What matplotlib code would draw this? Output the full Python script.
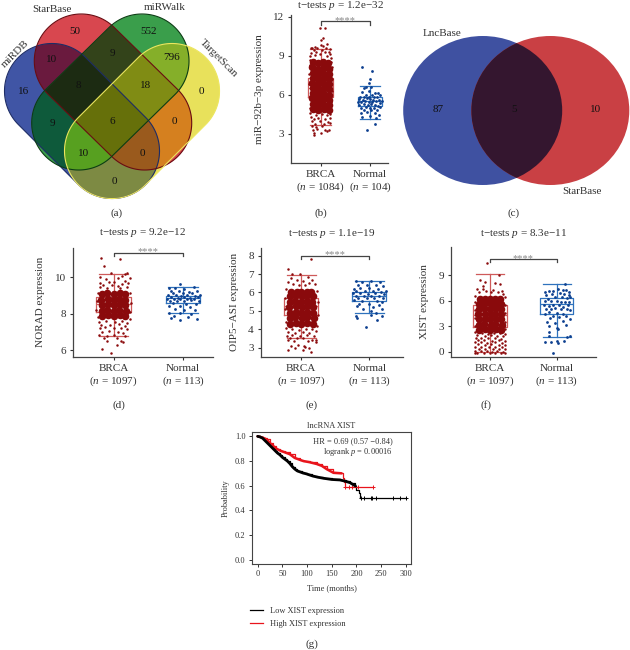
"""Multi-panel figure: Venn diagrams, expression box plots and a survival curve."""

import matplotlib

matplotlib.use("Agg")
import matplotlib.pyplot as plt  # noqa: E402
import numpy as np  # noqa: E402
from matplotlib.patches import Ellipse  # noqa: E402

plt.rcParams["font.family"] = ["Liberation Serif", "DejaVu Sans"]
plt.rcParams["mathtext.fontset"] = "custom"
plt.rcParams["mathtext.rm"] = "Liberation Serif"
plt.rcParams["mathtext.it"] = "Liberation Serif:italic"

TEXT = "#333333"
RED_DOT, RED_BOX = "#8a0a0c", "#cf5a5a"
BLUE_DOT, BLUE_BOX = "#0c3f8f", "#2f72bd"

# Venn counts (panel a, c)
venn_a_counts = ["16", "50", "552", "0", "10", "9", "796", "9", "8", "18", "0", "6", "10", "0", "0"]
venn_c_counts = ["87", "5", "10"]

# box statistics: whislo, q1, med, q3, whishi
b_stats = [(3.65, 5.8, 6.5, 7.3, 9.5), (4.15, 5.1, 5.5, 5.8, 6.65)]
d_stats = [(6.8, 8.07, 8.53, 8.93, 10.17), (8.02, 8.56, 8.84, 8.96, 9.44)]
e_stats = [(3.51, 4.78, 5.24, 5.69, 6.96), (4.87, 5.53, 5.82, 6.01, 6.6)]
f_stats = [(0.0, 2.87, 4.3, 5.47, 9.13), (1.7, 4.41, 5.6, 6.3, 7.95)]

# estimated points (jitter offset, expression); the dense centre of each BRCA cloud
# is a thinned set of fat dots, the edges are single points read off the picture
b_brca_core = [
    (-.16, 4.9), (-.05, 4.8), (.06, 4.9), (.16, 4.8), (-.15, 5.3), (-.06, 5.2), (.05, 5.3), (.17, 5.2),
    (-.17, 5.7), (-.05, 5.6), (.06, 5.7), (.16, 5.6), (-.16, 6.1), (-.06, 6.0), (.05, 6.1), (.17, 6.0),
    (-.16, 6.5), (-.05, 6.4), (.06, 6.5), (.16, 6.4), (-.17, 6.9), (-.06, 6.8), (.05, 6.9), (.16, 6.8),
    (-.15, 7.3), (-.05, 7.2), (.06, 7.3), (.17, 7.2), (-.16, 7.7), (-.06, 7.6), (.05, 7.7), (.16, 7.6),
    (-.17, 8.1), (-.05, 8.0), (.06, 8.1), (.16, 8.0), (-.16, 8.5), (-.06, 8.4), (.05, 8.5), (.15, 8.4),
]
b_brca_pts = [
    (-.01, 11.15), (.09, 11.15), (.05, 10.33), (.0, 10.2), (.13, 9.9), (.0, 9.8), (-.11, 9.7), (.05, 9.75),
    (-.18, 9.55), (.16, 9.3), (-.2, 9.6), (-.14, 9.45), (-.07, 9.6), (.1, 9.6), (.19, 9.5), (.03, 9.4),
    (-.19, 9.2), (-.09, 9.25), (.08, 9.3), (.2, 9.15), (-.21, 8.95), (-.12, 9.05), (-.02, 9.1), (.13, 9.0),
    (.21, 8.85), (-.22, 8.7), (.22, 8.5), (-.22, 8.3), (.23, 8.1), (-.23, 7.6), (.23, 7.2), (-.23, 6.8),
    (.23, 6.3), (-.22, 5.9), (.22, 5.4), (-.22, 5.0), (.22, 4.8), (-.21, 4.6), (-.1, 4.45), (.02, 4.5),
    (.12, 4.4), (.2, 4.5), (-.2, 4.25), (-.13, 4.1), (-.05, 4.2), (.08, 4.15), (.18, 4.2), (-.17, 3.95),
    (-.02, 3.95), (.15, 3.9), (.2, 3.8), (-.11, 3.75), (.06, 3.75), (-.18, 3.55), (-.09, 3.5), (.02, 3.6),
    (.12, 3.2), (.16, 3.3), (-.15, 3.3), (-.07, 3.35), (.0, 3.03), (-.13, 2.9), (-.14, 3.05), (.09, 3.25),
]
b_normal_pts = [
    (-.17, 8.1), (.05, 7.8), (.0, 7.2), (-.03, 6.9), (-.08, 6.55), (-.12, 6.5), (-.03, 6.3), (.02, 6.6),
    (-.16, 6.2), (.1, 6.1), (.17, 6.15), (-.08, 6.0), (.04, 6.0), (.2, 5.95), (-.2, 5.85), (-.12, 5.8),
    (-.03, 5.85), (.08, 5.85), (.14, 5.8), (-.22, 5.65), (-.15, 5.6), (-.07, 5.7), (.0, 5.65), (.06, 5.6),
    (.18, 5.6), (.24, 5.5), (-.24, 5.4), (-.18, 5.4), (-.1, 5.5), (-.02, 5.45), (.05, 5.4), (.12, 5.5),
    (.2, 5.35), (-.22, 5.2), (-.13, 5.25), (-.05, 5.2), (.03, 5.25), (.1, 5.2), (.16, 5.15), (-.18, 5.0),
    (-.08, 5.05), (.0, 5.0), (.08, 5.0), (.21, 5.05), (-.12, 4.85), (.03, 4.8), (.14, 4.85), (-.19, 4.6),
    (-.06, 4.65), (.1, 4.6), (.18, 4.45), (-.16, 4.3), (.0, 4.35), (.12, 4.2), (.11, 3.75), (-.07, 3.25),
]

d_brca_core = [
    (-.17, 7.85), (-.08, 7.9), (.0, 7.85), (.09, 7.9), (.17, 7.85), (-.16, 8.15), (-.09, 8.2), (.01, 8.15),
    (.08, 8.2), (.18, 8.15), (-.17, 8.45), (-.08, 8.5), (.0, 8.45), (.09, 8.5), (.17, 8.45), (-.18, 8.75),
    (-.08, 8.8), (.01, 8.75), (.08, 8.8), (.17, 8.75), (-.16, 9.05), (-.09, 9.1), (.0, 9.05), (.09, 9.1),
    (.16, 9.05),
]
d_brca_pts = [
    (-.18, 11.05), (.09, 10.98), (-.14, 10.6), (.2, 10.2), (.16, 10.15), (-.03, 10.2), (.12, 10.05), (-.2, 10.0),
    (.06, 9.95), (.23, 9.95), (-.11, 9.9), (.17, 9.8), (.01, 9.75), (-.19, 9.7), (-.07, 9.75), (.21, 9.65),
    (.12, 9.6), (-.15, 9.55), (-.02, 9.55), (.06, 9.5), (-.2, 9.45), (.19, 9.45), (-.1, 9.4), (.1, 9.4),
    (-.23, 9.1), (.24, 9.1), (-.24, 8.7), (.25, 8.6), (-.25, 8.2), (.24, 8.1), (-.23, 7.8), (.23, 7.7),
    (-.21, 7.55), (-.11, 7.6), (.02, 7.55), (.12, 7.6), (.2, 7.5), (-.18, 7.4), (-.05, 7.4), (.08, 7.45),
    (.16, 7.35), (-.2, 7.2), (-.12, 7.25), (.0, 7.2), (.11, 7.2), (.19, 7.15), (-.17, 7.0), (-.07, 7.05),
    (.06, 7.0), (.14, 6.95), (-.21, 6.85), (-.1, 6.8), (.0, 6.85), (.17, 6.8), (-.14, 6.65), (.05, 6.65),
    (.11, 6.5), (.14, 6.45), (-.09, 6.5), (.05, 6.3), (-.17, 6.05), (-.04, 5.85),
]
d_normal_pts = [
    (-.05, 9.62), (.16, 9.43), (-.2, 9.4), (-.11, 9.38), (.02, 9.35), (-.17, 9.25), (-.06, 9.25), (.09, 9.2),
    (.2, 9.22), (-.14, 9.1), (.0, 9.12), (.13, 9.12), (.24, 9.0), (-.22, 9.0), (-.1, 9.0), (-.03, 8.98),
    (.05, 9.02), (.17, 8.98), (-.17, 8.9), (-.07, 8.88), (.02, 8.9), (.1, 8.88), (.21, 8.9), (-.23, 8.8),
    (-.13, 8.8), (-.04, 8.78), (.06, 8.82), (.15, 8.8), (-.19, 8.7), (-.09, 8.7), (.01, 8.7), (.11, 8.72),
    (.23, 8.68), (-.15, 8.58), (.04, 8.55), (.19, 8.55), (-.2, 8.4), (-.05, 8.42), (.1, 8.35), (-.12, 8.25),
    (.02, 8.2), (.17, 8.22), (-.2, 8.05), (-.05, 8.05), (.12, 8.0), (-.13, 7.85), (.07, 7.82), (.2, 7.72),
    (-.17, 7.75), (-.04, 7.68),
]

e_brca_core = [
    (-.17, 4.3), (-.08, 4.35), (.0, 4.3), (.09, 4.35), (.17, 4.3), (-.16, 4.6), (-.09, 4.65), (.01, 4.6),
    (.08, 4.65), (.18, 4.6), (-.17, 4.9), (-.08, 4.95), (.0, 4.9), (.09, 4.95), (.17, 4.9), (-.18, 5.2),
    (-.08, 5.25), (.01, 5.2), (.08, 5.25), (.17, 5.2), (-.16, 5.5), (-.09, 5.55), (.0, 5.5), (.09, 5.55),
    (.16, 5.5), (-.17, 5.8), (-.08, 5.85), (.01, 5.8), (.08, 5.85), (.17, 5.8), (-.15, 6.05), (-.07, 6.05),
    (.0, 6.05), (.08, 6.05), (.15, 6.05),
]
e_brca_pts = [
    (.15, 7.8), (-.2, 7.27), (-.14, 6.98), (-.02, 6.98), (.1, 6.85), (-.15, 6.8), (-.07, 6.65), (.16, 6.7),
    (.03, 6.6), (-.2, 6.55), (.11, 6.5), (.2, 6.45), (-.12, 6.45), (-.03, 6.4), (.06, 6.4), (-.22, 6.2),
    (.23, 6.1), (-.24, 5.7), (.24, 5.5), (-.24, 5.1), (.24, 4.8), (-.23, 4.4), (.23, 4.2), (-.22, 4.05),
    (-.13, 4.0), (-.04, 3.98), (.07, 4.0), (.16, 4.0), (.22, 3.9), (-.19, 3.85), (-.09, 3.8), (.02, 3.85),
    (.12, 3.8), (-.21, 3.65), (-.14, 3.7), (-.02, 3.65), (.08, 3.7), (.19, 3.65), (-.17, 3.5), (-.07, 3.5),
    (.03, 3.52), (.16, 3.42), (-.2, 3.4), (-.1, 3.35), (.1, 3.35), (.22, 3.4), (.21, 3.3), (-.15, 3.1),
    (-.05, 3.15), (.06, 3.05), (-.09, 3.0), (.11, 2.98), (.02, 2.9), (-.2, 2.85), (.04, 3.1), (.14, 2.75),
]
e_normal_pts = [
    (-.2, 6.6), (-.1, 6.58), (.02, 6.6), (.16, 6.58), (-.17, 6.4), (-.04, 6.42), (.1, 6.38), (.2, 6.35),
    (-.22, 6.2), (-.13, 6.22), (.0, 6.25), (.13, 6.2), (.24, 6.1), (-.19, 6.08), (-.07, 6.08), (.05, 6.1),
    (.17, 6.05), (-.24, 5.95), (-.14, 5.95), (-.02, 5.92), (.09, 5.95), (.21, 5.92), (-.2, 5.82), (-.08, 5.82),
    (.03, 5.82), (.14, 5.8), (-.16, 5.7), (-.04, 5.72), (.07, 5.7), (.2, 5.68), (-.22, 5.58), (-.1, 5.55),
    (.11, 5.55), (.18, 5.5), (-.15, 5.35), (.0, 5.35), (.14, 5.3), (-.18, 5.25), (.06, 5.2), (-.09, 5.08),
    (.19, 5.1), (.02, 5.0), (.1, 4.9), (-.19, 4.72), (.02, 4.75), (.18, 4.72), (-.18, 4.6), (.11, 4.5),
    (-.05, 4.1),
]

f_brca_core = [
    (-.17, 2.6), (-.08, 2.7), (.0, 2.6), (.09, 2.7), (.17, 2.6), (-.16, 3.2), (-.09, 3.3), (.01, 3.2),
    (.08, 3.3), (.18, 3.2), (-.17, 3.8), (-.08, 3.9), (.0, 3.8), (.09, 3.9), (.17, 3.8), (-.18, 4.4),
    (-.08, 4.5), (.01, 4.4), (.08, 4.5), (.17, 4.4), (-.16, 5.0), (-.09, 5.1), (.0, 5.0), (.09, 5.1),
    (.16, 5.0), (-.17, 5.6), (-.08, 5.7), (.01, 5.6), (.08, 5.7), (.17, 5.6), (-.15, 6.2), (-.07, 6.2),
    (.0, 6.2), (.08, 6.2), (.15, 6.2),
]
f_brca_pts = [
    (-.05, 10.5), (.14, 9.1), (-.15, 8.4), (-.08, 8.2), (.08, 8.1), (.15, 7.95), (-.1, 7.8), (-.2, 7.4),
    (-.11, 7.4), (-.06, 7.2), (.05, 7.3), (.18, 7.2), (-.16, 7.0), (.01, 7.0), (.12, 7.0), (.2, 6.85),
    (-.22, 6.6), (.23, 6.5), (-.23, 5.9), (.23, 5.5), (-.23, 4.9), (.23, 4.6), (-.23, 4.0), (.23, 3.5),
    (-.23, 3.0), (.23, 2.7), (-.22, 2.3), (-.12, 2.2), (-.03, 2.1), (.06, 2.2), (.15, 2.15), (.22, 2.1),
    (-.19, 1.95), (-.08, 1.85), (.01, 1.95), (.11, 1.85), (.2, 1.8), (-.21, 1.6), (-.14, 1.65), (-.03, 1.6),
    (.07, 1.65), (.17, 1.55), (-.18, 1.35), (-.09, 1.4), (.03, 1.3), (.13, 1.4), (.22, 1.3), (-.22, 1.1),
    (-.13, 1.1), (-.04, 1.05), (.08, 1.1), (.18, 1.05), (-.18, .85), (-.08, .8), (.02, .85), (.13, .8),
    (.22, .8), (-.22, .6), (-.13, .55), (-.02, .6), (.08, .55), (.18, .6), (-.17, .35), (-.07, .3),
    (.04, .35), (.13, .3), (.22, .35), (-.22, .1), (-.14, .05), (-.05, .1), (.03, .02), (.11, .08),
    (.19, .02), (-.19, -.1), (-.09, -.12), (.0, -.1), (.08, -.12), (.16, -.1), (.22, -.12), (-.23, -.1),
]
f_normal_pts = [
    (.12, 7.95), (-.18, 7.1), (-.12, 7.15), (-.05, 7.2), (.02, 7.4), (.09, 7.3), (.14, 7.25), (.19, 7.1),
    (-.16, 6.7), (-.07, 6.75), (.05, 6.9), (.11, 6.8), (.18, 6.7), (.2, 6.4), (-.13, 6.25), (-.03, 6.4),
    (.08, 6.4), (.15, 6.3), (-.17, 6.0), (-.08, 5.95), (.0, 6.0), (.06, 5.9), (.13, 5.85), (.19, 5.9),
    (-.19, 5.55), (-.12, 5.4), (-.05, 5.5), (.03, 5.45), (.1, 5.3), (.17, 5.5), (-.16, 5.05), (-.09, 5.0),
    (-.02, 5.1), (.06, 5.0), (.15, 5.05), (.2, 4.9), (-.12, 4.7), (.0, 4.6), (.09, 4.5), (.14, 4.2),
    (-.17, 4.4), (-.06, 4.2), (.03, 4.1), (-.1, 3.95), (.2, 3.9), (.1, 3.65), (-.14, 3.5), (-.03, 3.4),
    (.14, 3.2), (-.11, 3.05), (.0, 2.8), (.02, 2.7), (-.12, 2.3), (-.12, 1.9), (.15, 1.75), (.2, 1.8),
    (-.17, 1.1), (-.08, 1.2), (.0, 1.25), (.02, 1.05), (.11, 1.25), (-.05, -.15),
]

# survival curves (panel g), step points
low_months = [0, 5, 10, 15, 20, 25, 30, 35, 40, 45, 50, 55, 60, 65, 70, 75, 80, 90, 99, 110, 120, 133, 150, 167, 178, 187, 198, 200, 205, 207, 300]
low_prob = [1.0, .995, .985, .965, .945, .925, .905, .885, .865, .85, .83, .815, .80, .78, .755, .735, .72, .705, .695, .68, .67, .66, .65, .646, .635, .624, .597, .565, .538, .497, .497]
high_months = [0, 5, 10, 18, 25, 32, 38, 45, 55, 65, 75, 85, 92, 105, 120, 130, 140, 153, 170, 172, 175, 176, 233]
high_prob = [1.0, .995, .99, .975, .945, .92, .90, .885, .87, .855, .825, .81, .80, .79, .775, .76, .733, .705, .70, .66, .632, .586, .586]
low_censor_months = [210, 215, 229, 232, 240, 273, 288, 300]
high_censor_months = [176, 184, 190, 203, 233]


def pixel_axes(fig, left, top, right, bottom):
    """Axes placed by pixel box, with y measured from the top of the picture."""
    w, h = fig.canvas.get_width_height()
    return fig.add_axes([left / w, 1 - bottom / h, (right - left) / w, (bottom - top) / h])


def stats_dict(row):
    return dict(whislo=row[0], q1=row[1], med=row[2], q3=row[3], whishi=row[4], fliers=[])


def box_panel(ax, stats, core, brca, normal, bracket, ylabel, yticks, xlim, ylim, n_labels):
    colors = [RED_BOX, BLUE_BOX]
    for pos, (row, color) in enumerate(zip(stats, colors)):
        ax.bxp(
            [stats_dict(row)], positions=[pos], widths=0.5, showfliers=False,
            boxprops=dict(color=color, linewidth=0.9),
            medianprops=dict(color=color, linewidth=0.9),
            whiskerprops=dict(color=color, linewidth=0.9),
            capprops=dict(color=color, linewidth=0.9), capwidths=0.42,
        )
    ax.scatter(*zip(*core), s=30, color=RED_DOT, linewidths=0, zorder=3)
    ax.scatter(*zip(*brca), s=3.2, color=RED_DOT, linewidths=0, zorder=3)
    normal_x, normal_y = zip(*normal)
    ax.scatter(np.array(normal_x) + 1, normal_y, s=4, color=BLUE_DOT, linewidths=0, zorder=3)

    top, tip = bracket
    ax.plot([0, 0, 1, 1], [tip, top, top, tip], color="#444444", linewidth=0.9, clip_on=False)
    ax.annotate("****", (0.5, top), xytext=(0, 0.5), textcoords="offset points", ha="center", va="center",
                fontsize=7.5, color="#888888")

    ax.set_xlim(*xlim)
    ax.set_ylim(*ylim)
    ax.set_xticks([0, 1], [f"BRCA\n($n$ = {n_labels[0]})", f"Normal\n($n$ = {n_labels[1]})"])
    ax.set_yticks(yticks)
    ax.set_ylabel(ylabel, fontsize=8, color=TEXT, labelpad=6.6)
    ax.tick_params(labelsize=8, length=2.5, width=0.8, colors=TEXT, pad=2.5)
    ax.spines[["top", "right"]].set_visible(False)
    ax.spines[["left", "bottom"]].set_linewidth(0.9)
    ax.spines[["left", "bottom"]].set_color("#444444")


def segment_distance(xx, yy, start, end):
    start, end = np.array(start), np.array(end)
    along = end - start
    t = ((xx - start[0]) * along[0] + (yy - start[1]) * along[1]) / along.dot(along)
    t = np.clip(t, 0, 1)
    return np.hypot(xx - start[0] - t * along[0], yy - start[1] - t * along[1])


fig = plt.figure(figsize=(6.3, 6.5), dpi=100)
fig.canvas.draw()
page = fig.add_axes([0, 0, 1, 1], zorder=-1)
page.set_axis_off()

# panel a: four rotated stadium shapes, each region coloured by membership
xx, yy = np.meshgrid(np.arange(0, 240, 0.25), np.arange(0, 210, 0.25))
shapes = [
    (segment_distance(xx, yy, (52, 91), (112, 151)), 47.5, "#1d2c66"),
    (segment_distance(xx, yy, (81.3, 61), (144.7, 123)), 47, "#6a0c12"),
    (segment_distance(xx, yy, (142, 61), (78.7, 123)), 47, "#0c3d14"),
    (segment_distance(xx, yy, (172, 91), (112, 151)), 47.5, "#ece65e"),
]
# index bits: blue 1, red 2, green 4, yellow 8
region_colors = [
    "#ffffff", "#4055a5", "#d8474f", "#6a1a3e", "#3a9e4c", "#0f5a3c", "#33441a", "#1c2c12",
    "#e8e15c", "#7d8a44", "#d6801f", "#9a5a1e", "#85b02a", "#58a020", "#808c14", "#66700a",
]
region = sum((dist < radius).astype(int) << bit for bit, (dist, radius, _) in enumerate(shapes))
lut = np.array([matplotlib.colors.to_rgb(c) for c in region_colors])
page.imshow(lut[region], extent=(0, 240, 210, 0), aspect="auto", interpolation="antialiased")
for dist, radius, edge in shapes:
    page.contour(xx, yy, dist, levels=[radius], colors=[edge], linewidths=0.8)

venn_a_xy = [
    (24, 92), (75, 32), (149, 31), (201, 92), (52, 60), (52, 123), (172, 58), (112, 54),
    (78, 85), (146, 86), (174, 122), (112, 122), (84, 153), (142, 154), (114, 182),
]
for label, (x, y) in zip(venn_a_counts, venn_a_xy):
    page.text(x, y, label, ha="center", va="center", fontsize=8, color="#111111")
page.text(52, 9.5, "StarBase", ha="center", va="center", fontsize=8, color=TEXT)
page.text(165, 8, "miRWalk", ha="center", va="center", fontsize=8, color=TEXT)
page.text(15, 54, "miRDB", ha="center", va="center", fontsize=8, rotation=45, color=TEXT)
page.text(218, 58, "TargetScan", ha="center", va="center", fontsize=8, rotation=-45, color=TEXT)

# panel c
left_set = Ellipse((482.7, 110.5), 159, 149, facecolor="#3f51a1", edgecolor="none")
right_set = Ellipse((550.3, 110.5), 158, 149, facecolor="#c94044", edgecolor="none")
overlap = Ellipse((482.7, 110.5), 159, 149, facecolor="#34162f", edgecolor="none")
for patch in (left_set, right_set, overlap):
    page.add_patch(patch)
overlap.set_clip_path(right_set)
for label, x in zip(venn_c_counts, (438, 514, 596)):
    page.text(x, 110, label, ha="center", va="center", fontsize=8, color="#111111")
page.text(442, 33, "LncBase", ha="center", va="center", fontsize=8, color=TEXT)
page.text(582, 192, "StarBase", ha="center", va="center", fontsize=8, color=TEXT)

# captions and titles
captions = [("(a)", 117, 213), ("(b)", 321, 213), ("(c)", 514, 213), ("(d)", 119, 405), ("(e)", 312, 405), ("(f)", 486, 405), ("(g)", 312, 644)]
for label, x, y in captions:
    page.text(x, y, label, ha="center", va="center", fontsize=8, color=TEXT)
titles = [("1.2e\u221232", 340, 6), ("9.2e\u221212", 142.7, 232.7), ("1.1e\u221219", 332, 234), ("8.3e\u221211", 523, 234)]
for p_value, x, y in titles:
    page.text(x, y, f"t\u2212tests $p$ = {p_value}", ha="center", va="center", fontsize=8, color=TEXT)
page.set_xlim(0, 630)
page.set_ylim(650, 0)

# panels b, d, e, f
box_panel(pixel_axes(fig, 291, 15, 388, 163), b_stats, b_brca_core, b_brca_pts, b_normal_pts, (11.65, 11.35),
          "miR\u221292b\u22123p expression", [3, 6, 9, 12], (-0.6, 1.365), (0.73, 12.13), (1084, 104))
box_panel(pixel_axes(fig, 72.7, 247.7, 213, 356.7), d_stats, d_brca_core, d_brca_pts, d_normal_pts, (11.33, 11.16),
          "NORAD expression", [6, 8, 10], (-0.587, 1.43), (5.65, 11.6), (1097, 113))
box_panel(pixel_axes(fig, 260.7, 247.7, 403, 356.7), e_stats, e_brca_core, e_brca_pts, e_normal_pts, (7.99, 7.83),
          "OIP5\u2212ASI expression", [3, 4, 5, 6, 7, 8], (-0.597, 1.496), (2.51, 8.43), (1097, 113))
box_panel(pixel_axes(fig, 450.7, 247, 596, 356.7), f_stats, f_brca_core, f_brca_pts, f_normal_pts, (10.9, 10.55),
          "XIST expression", [0, 3, 6, 9], (-0.59, 1.59), (-0.59, 12.35), (1097, 113))

# panel g
km = pixel_axes(fig, 251.7, 431.7, 411.3, 564)
km.step(low_months, low_prob, where="post", color="black", linewidth=0.9, label="Low XIST expression")
km.step(high_months, high_prob, where="post", color="#e8141c", linewidth=0.9, label="High XIST expression")
km.plot(low_months[:-4], low_prob[:-4], color="black", linewidth=2, solid_capstyle="round", zorder=3)
km.plot(high_months[:-4], high_prob[:-4], color="#e8141c", linewidth=1.8, solid_capstyle="round", zorder=2)
km.plot(low_censor_months, [low_prob[-1]] * len(low_censor_months), "k+", markersize=3.5, markeredgewidth=0.7)
km.plot(high_censor_months, [high_prob[-1]] * len(high_censor_months), "+", color="#e8141c", markersize=3.5, markeredgewidth=0.7)
km.set_xlim(-12, 311)
km.set_ylim(-0.0355, 1.0375)
km.set_xticks(range(0, 301, 50))
km.set_yticks([0, 0.2, 0.4, 0.6, 0.8, 1.0])
km.tick_params(labelsize=6, length=2.5, width=0.7, colors=TEXT, pad=2)
km.set_title("lncRNA XIST", fontsize=6, color=TEXT, pad=3)
km.set_xlabel("Time (months)", fontsize=6, color=TEXT, labelpad=4)
km.set_ylabel("Probability", fontsize=6, color=TEXT, labelpad=4)
for spine in km.spines.values():
    spine.set_linewidth(0.8)
    spine.set_color("#444444")
km.text(0.635, 0.925, "HR = 0.69 (0.57 \u22120.84)", transform=km.transAxes, ha="center", va="center", fontsize=6, color=TEXT)
km.text(0.665, 0.845, "logrank $p$ = 0.00016", transform=km.transAxes, ha="center", va="center", fontsize=6, color=TEXT)
km.legend(
    loc="upper left", bbox_to_anchor=(-0.008, -0.327), frameon=False, fontsize=6, labelcolor=TEXT,
    handlelength=1.5, handletextpad=0.8, labelspacing=0.6, borderpad=0, borderaxespad=0,
)

fig.savefig("out.png", dpi=100)
